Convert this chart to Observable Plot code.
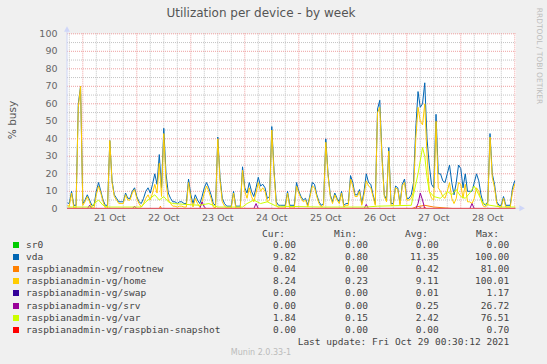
<!DOCTYPE html>
<html><head><meta charset="utf-8">
<script src="https://cdn.jsdelivr.net/npm/d3@7"></script>
<script src="https://cdn.jsdelivr.net/npm/@observablehq/plot@0.6"></script>
<style>
body{margin:0;background:#f0f0f0;}
#wrap{position:relative;width:547px;height:364px;background:#f0f0f0;overflow:hidden;font-family:"DejaVu Sans",sans-serif;}
#wrap svg{position:absolute;left:0;top:0;}
.t{position:absolute;white-space:pre;line-height:1;}
.mono{font-family:"DejaVu Sans Mono",monospace;font-size:9.5px;color:#444;}
</style></head><body><div id="wrap"></div>
<script>
// ---- data (hours since 20 Oct 00:00) ----
const hourStart = 17;
const vda = [
3.5,3,10,2,2,60,70,3,5,8,
5,2,2,10,15,10,5,2,2,39,
16,8,6,4,4,4,9,6,6,10,
12,7,4,3,6,10,12,9,14,20,
14,31,12,46,20,9,6,4,4,3,
4,4,3,3,17,8,3,8,5,3,
7,12,15,12,8,3,2,41,18,6,
3,1.5,1.5,1.5,10,1.5,1.5,1.5,24,12,
9,15,10,7,12,18,13,14,12,6,
7,47,22,4,2,2,2,2,10,2,
2,2,15,10,7,5,6,2,8,15,
14,8,4,2,3,40,20,8,4,9,
6,4,10,2,3,3,19,15,8,8,
11,3,10,20,15,14,8,3,57,62,
30,8,5,35,3,3,13,12,3,14,
17,6,6,8,15,46,67,58,60,72,
40,25,14,12,54,20,20,16,15,20,
25,15,8,15,25,23,12,20,10,10,
10,15,20,16,8,3,2,4,43,20,
14,4,2,2,7,2,2,2,12,16];
const home = [
2,1.5,9,0.5,0.5,58,70,2,4,7,
4,0.5,0.5,8,13,9,4,0.5,0.5,39,
15,7,5,3,3,3,8,5,5,9,
11,6,3,1,3,6,8,5,9,14,
9,26,7,43,15,5,3,1.5,1.5,1,
1.5,1.5,1,1,15,6,1,6,3,1,
4,9,13,10,6,1,0.5,40,16,4,
1.5,0.5,0.5,0.5,9,0.5,0.5,0.5,22,10,
6,12,7,4,9,15,10,12,10,4,
5,45,20,2,0.5,0.5,0.5,0.5,9,0.5,
0.5,0.5,13,9,6,4,5,1,7,13,
12,7,3,1,2,38,19,7,3,8,
5,3,9,1,2,2,17,13,7,7,
10,2,8,16,13,12,7,2,55,58,
28,7,4,33,2,2,12,11,2,13,
15,5,5,6,10,40,58,50,48,60,
30,10,6,5,50,12,10,7,6,10,
15,6,3,6,15,14,6,14,4,4,
3,6,12,10,5,1.5,1,2.5,41,18,
12,3,1,1,6,1,1,1,10,14];
const varPts = [[17,1],[28,1],[29,3],[31,5],[33,2],[35,1],[50,1],[52,4],[54,6],[56,8],[58,5],[60,7],[62,4],[64,3],[70,2.5],[76,2],[80,3],[84,1],[95,1],[97,3],[100,5],[103,3],[106,4],[110,1.5],[130,1],[150,1],[155,1.5],[170,2],[171,8],[173,20],[175,35],[176,30],[177,18],[178,10],[180,7],[183,6],[186,10],[188,8],[190,11],[192,7],[194,6],[196,9],[198,13],[200,8],[202,3],[205,2],[210,1],[216.5,1]];
const srvPts = [[17,0],[26,0],[27,2],[28,0],[46,0],[47,1.5],[48,0],[76,0],[77,4],[78,1],[79,0],[100,0],[101,3],[102,0],[149,0],[150,2.5],[151,0],[172,0],[173,3],[174,9],[175,5],[176,0],[196,0],[197,3],[198,0],[216.5,0]];
const rootnewPts = [[17,0],[58,0],[58.5,1.5],[59,0],[170,0],[172,1],[176,2],[180,1],[185,0.5],[190,0],[216.5,0]];
const swapPts = [[17,0],[173,0],[174,0.5],[175,0],[216.5,0]];
const snapshotPts = [[17,0],[175,0],[176,0.7],[177,0],[216.5,0]];
const sr0Pts = [[17,0],[216.5,0]];

const names = ["sr0","vda","raspbianadmin-vg/rootnew","raspbianadmin-vg/home","raspbianadmin-vg/swap","raspbianadmin-vg/srv","raspbianadmin-vg/var","raspbianadmin-vg/raspbian-snapshot"];
const colors = ["#00CC00","#0066B3","#FF8000","#FFCC00","#330099","#990099","#CCFF00","#FF0000"];
const curV = ["0.00","9.82","0.04","8.24","0.00","0.00","1.84","0.00"];
const minV = ["0.00","0.80","0.00","0.23","0.00","0.00","0.15","0.00"];
const avgV = ["0.00","11.35","0.42","9.11","0.01","0.25","2.42","0.00"];
const maxV = ["0.00","100.00","81.00","100.01","1.17","26.72","76.51","0.70"];

const yTicks = [0,10,20,30,40,50,60,70,80,90,100];
const xTickHours = [36,60,84,108,132,156,180,204];
const xTickLabels = ["21 Oct","22 Oct","23 Oct","24 Oct","25 Oct","26 Oct","27 Oct","28 Oct"];
const xDomain = [17.2, 216.5];

// ---- build ----
const hourly = arr => arr.map((v,i)=>({h: hourStart+i, v}));
const pts = arr => arr.map(([h,v])=>({h, v}));
const seriesRows = [pts(sr0Pts), hourly(vda), pts(rootnewPts), hourly(home), pts(swapPts), pts(srvPts), pts(varPts), pts(snapshotPts)];

const minorY = d3.range(5,100,10);
const majorY = d3.range(10,101,10);
const minorX = d3.range(18,217,6).filter(h=>h%24!==0);
const majorX = d3.range(24,217,24);

const W=547, H=225;
const plot = Plot.plot({
  width: W, height: H,
  marginLeft: 67, marginRight: 31.6, marginTop: 33.3, marginBottom: 16.7,
  x: {type:"linear", domain: xDomain},
  y: {domain: [0,100]},
  style: {background:"transparent", fontFamily:"DejaVu Sans", fontSize:"9.5px", color:"#666", overflow:"visible"},
  marks: [
    Plot.frame({fill:"white", stroke:null}),
    Plot.ruleY(minorY, {stroke:"#c4c4c4", strokeDasharray:"1,1"}),
    Plot.ruleX(minorX, {stroke:"#c4c4c4", strokeDasharray:"1,1"}),
    Plot.ruleY(majorY, {stroke:"#ee9f9f", strokeDasharray:"1,1"}),
    Plot.ruleX(majorX, {stroke:"#ee9f9f", strokeDasharray:"1,1"}),
    ...seriesRows.map((rows,i)=>Plot.line(rows, {x:"h", y:"v", stroke: colors[i], strokeWidth:1, clip:true})),
    Plot.axisY({ticks: yTicks, tickSize:0, tickPadding:10, label:null, fill:"#666"}),
    Plot.axisX({ticks: xTickHours, tickFormat:(d,i)=>xTickLabels[i], tickSize:0, tickPadding:5, label:null, fill:"#666"})
  ]
});

const wrap = document.getElementById("wrap");
wrap.appendChild(plot);

// axis lines + arrows (munin style)
const sx = plot.scale("x"), sy = plot.scale("y");
const x0 = sx.apply(xDomain[0]), x1 = sx.apply(xDomain[1]);
const y0 = sy.apply(0), y1 = sy.apply(100);
const g = d3.select(plot).append("g").attr("fill","#CFD6F8").attr("stroke","#CFD6F8");
g.append("line").attr("x1",x0).attr("x2",x0).attr("y1",y0).attr("y2",y1-4);
g.append("line").attr("x1",x0).attr("x2",x1+6).attr("y1",y0).attr("y2",y0).attr("stroke-opacity",0.6);
g.append("path").attr("stroke","none").attr("d",`M${x0-3},${y1-1.5}L${x0+3},${y1-1.5}L${x0},${y1-7}Z`);
g.append("path").attr("stroke","none").attr("d",`M${x1+4},${y0-3}L${x1+4},${y0+3}L${x1+9.5},${y0}Z`);
// redraw snapshot baseline on top of the axis
d3.select(plot).append("line").attr("x1",x0).attr("x2",x1).attr("y1",y0).attr("y2",y0).attr("stroke","#FF0000").attr("stroke-opacity",0.55);

// ---- texts ----
function txt(s, x, y, anchor, cls, style){
  const d = document.createElement("div");
  d.className = "t " + (cls||"");
  d.textContent = s;
  d.style.left = x+"px"; d.style.top = y+"px";
  const tx = anchor==="middle" ? "-50%" : anchor==="end" ? "-100%" : "0";
  d.style.transform = `translate(${tx},-50%)`;
  if (style) Object.assign(d.style, style);
  wrap.appendChild(d);
  return d;
}
txt("Utilization per device - by week", 261, 13, "middle", "", {fontSize:"12px", color:"#555"});
const yl = txt("% busy", 12, 120, "middle", "", {fontSize:"10.5px", color:"#555"});
yl.style.transform = "translate(-50%,-50%) rotate(-90deg)";
const rr = txt("RRDTOOL / TOBI OETIKER", 539, 56, "middle", "", {fontSize:"7.5px", color:"#bdbdbd"});
rr.style.transform = "translate(-50%,-50%) rotate(90deg)";

const colX = [296, 368, 438.7, 509.3];
const hdr = ["Cur:","Min:","Avg:","Max:"];
const hdrX = [262, 334, 405, 476];
hdr.forEach((h,i)=>txt(h, hdrX[i], 233.5, "start", "mono"));
names.forEach((n,i)=>{
  const y = 245 + i*12.1;
  const sw = document.createElement("div");
  sw.style.cssText = `position:absolute;left:13px;top:${y-3}px;width:6px;height:6px;background:${colors[i]};`;
  wrap.appendChild(sw);
  txt(n, 26, y, "start", "mono");
  [curV[i], minV[i], avgV[i], maxV[i]].forEach((v,j)=>txt(v, colX[j], y, "end", "mono"));
});
txt("Last update: Fri Oct 29 00:30:12 2021", 509.3, 341.8, "end", "mono");
txt("Munin 2.0.33-1", 261, 352.7, "middle", "", {fontSize:"8px", color:"#bbb"});
</script></body></html>
